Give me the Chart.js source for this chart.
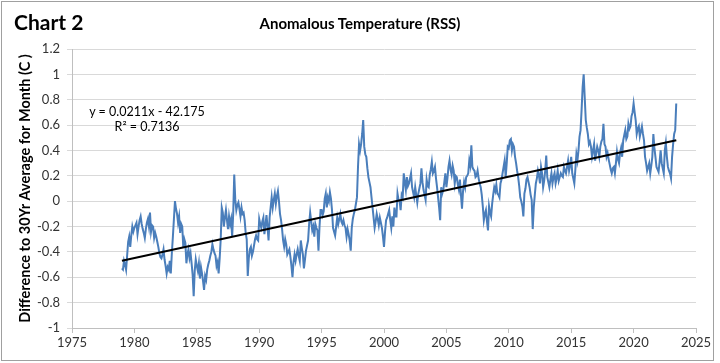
<!DOCTYPE html>
<html>
<head>
<meta charset="utf-8">
<title>Anomalous Temperature (RSS)</title>
<script src="https://cdn.jsdelivr.net/npm/chart.js@4.4.1/dist/chart.umd.min.js"></script>
<style>
  html, body { margin: 0; padding: 0; background: #fff; }
  #wrap { position: relative; width: 720px; height: 363px; font-family: Lato, 'Liberation Sans', sans-serif; color: #000; }
  #frame { position: absolute; left: 1px; top: 1px; width: 711px; height: 358px; border: 1px solid #a0a0a0; pointer-events: none; }
  #chart-no { position: absolute; left: 14px; top: 9px; font-size: 21px; font-weight: bold; }
  #chart-title { position: absolute; left: 0; width: 720px; top: 14px; text-align: center; font-size: 15px; font-weight: bold; }
  #trend-eq { position: absolute; left: 80px; top: 104px; width: 134px; text-align: center; font-size: 12.5px; line-height: 15px; }
  canvas { position: absolute; left: 0; top: 0; }
</style>
</head>
<body>
<div id="wrap">
  <canvas id="chart" width="720" height="363"></canvas>
  <div id="chart-no">Chart 2</div>
  <div id="chart-title">Anomalous Temperature (RSS)</div>
  <div id="trend-eq">y = 0.0211x - 42.175<br>R² = 0.7136</div>
  <div id="frame"></div>
</div>
<script>
// ── Data (monthly anomaly) ────────────────────────────────
const startYear = 1979;
const anomaly = [
  -0.53,-0.54,-0.47,-0.50,-0.54,-0.43,-0.32,-0.28,-0.36,-0.27,-0.20,-0.24, // 1979
  -0.21,-0.19,-0.17,-0.26,-0.20,-0.15,-0.12,-0.18,-0.22,-0.25,-0.29,-0.22, // 1980
  -0.17,-0.14,-0.20,-0.09,-0.24,-0.19,-0.20,-0.29,-0.25,-0.28,-0.32,-0.36, // 1981
  -0.41,-0.44,-0.45,-0.42,-0.38,-0.46,-0.51,-0.57,-0.52,-0.54,-0.47,-0.57, // 1982
  -0.41,-0.28,-0.14, 0.00,-0.06,-0.10,-0.17,-0.12,-0.25,-0.18,-0.20,-0.36, // 1983
  -0.30,-0.33,-0.49,-0.42,-0.38,-0.45,-0.41,-0.49,-0.58,-0.75,-0.55,-0.46, // 1984
  -0.51,-0.55,-0.49,-0.61,-0.52,-0.57,-0.63,-0.70,-0.59,-0.62,-0.54,-0.50, // 1985
  -0.47,-0.43,-0.40,-0.34,-0.38,-0.41,-0.43,-0.51,-0.48,-0.57,-0.45,-0.30, // 1986
  -0.05,-0.09,-0.20,-0.13,-0.07,-0.15,-0.22,-0.12,-0.18,-0.14,-0.28,-0.10, // 1987
   0.21, 0.01,-0.07,-0.03,-0.01,-0.06,-0.12,-0.05,-0.10,-0.09,-0.15,-0.25, // 1988
  -0.30,-0.59,-0.45,-0.38,-0.36,-0.43,-0.40,-0.35,-0.30,-0.27,-0.30,-0.31, // 1989
  -0.14,-0.18,-0.21,-0.16,-0.13,-0.26,-0.19,-0.11,-0.20,-0.31,-0.13,-0.05, // 1990
   0.03,-0.05, 0.01, 0.06,-0.02, 0.04, 0.08, 0.00,-0.10,-0.15,-0.22,-0.31, // 1991
  -0.36,-0.30,-0.34,-0.42,-0.40,-0.38,-0.44,-0.51,-0.60,-0.48,-0.42,-0.47, // 1992
  -0.42,-0.38,-0.43,-0.47,-0.31,-0.37,-0.42,-0.53,-0.46,-0.39,-0.35,-0.31, // 1993
  -0.18,-0.09,-0.16,-0.23,-0.20,-0.28,-0.18,-0.21,-0.23,-0.39,-0.20,-0.07, // 1994
  -0.07,-0.11,-0.08, 0.02, 0.06,-0.05, 0.03, 0.00, 0.07, 0.02,-0.07,-0.21, // 1995
  -0.24,-0.27,-0.20,-0.13,-0.18,-0.14,-0.10,-0.16,-0.18,-0.15,-0.19,-0.21, // 1996
  -0.28,-0.22,-0.26,-0.31,-0.39,-0.21,-0.14,-0.10,-0.07,-0.02, 0.03, 0.27, // 1997
   0.45, 0.40, 0.45, 0.53, 0.64, 0.43, 0.37, 0.35, 0.26, 0.19, 0.15, 0.11, // 1998
   0.03,-0.05,-0.13,-0.21,-0.16,-0.10,-0.14,-0.19,-0.13,-0.17,-0.21,-0.28, // 1999
  -0.36,-0.24,-0.15,-0.13,-0.10,-0.07,-0.15,-0.21,-0.12,-0.20,-0.05,-0.12, // 2000
  -0.12, 0.06, 0.01, 0.00,-0.07, 0.05, 0.03, 0.22, 0.15, 0.09, 0.19, 0.12, // 2001
   0.14, 0.18, 0.22, 0.11, 0.07, 0.03, 0.11, 0.05,-0.01, 0.06, 0.10, 0.14, // 2002
   0.26, 0.15, 0.09, 0.05, 0.01, 0.17, 0.12, 0.11, 0.21, 0.25, 0.31, 0.22, // 2003
   0.24, 0.27, 0.18, 0.11, 0.03,-0.05,-0.15, 0.11, 0.06, 0.09, 0.15, 0.22, // 2004
   0.11, 0.18, 0.27, 0.32, 0.25, 0.21, 0.28, 0.24, 0.14, 0.20, 0.19, 0.13, // 2005
   0.09, 0.17, 0.05,-0.06, 0.08, 0.15, 0.11, 0.19, 0.20, 0.22, 0.32, 0.28, // 2006
   0.44, 0.27, 0.25, 0.24, 0.19, 0.20, 0.24, 0.18, 0.14, 0.11, 0.05,-0.04, // 2007
  -0.15,-0.10,-0.07,-0.16,-0.23,-0.04,-0.09,-0.12,-0.02, 0.05, 0.11, 0.08, // 2008
   0.13, 0.06, 0.05, 0.03, 0.14, 0.17, 0.22, 0.27, 0.32, 0.19, 0.30, 0.43, // 2009
   0.42, 0.48, 0.49, 0.40, 0.45, 0.43, 0.35, 0.30, 0.24, 0.19, 0.12, 0.03, // 2010
   0.00,-0.04,-0.12, 0.06, 0.10, 0.17, 0.19, 0.15, 0.11, 0.05, 0.01,-0.22, // 2011
  -0.05, 0.05, 0.14, 0.18, 0.24, 0.20, 0.14, 0.27, 0.22, 0.11, 0.16, 0.24, // 2012
   0.36, 0.19, 0.15, 0.11, 0.17, 0.22, 0.14, 0.19, 0.22, 0.14, 0.18, 0.24, // 2013
   0.16, 0.19, 0.22, 0.20, 0.19, 0.27, 0.24, 0.22, 0.27, 0.32, 0.24, 0.28, // 2014
   0.35, 0.22, 0.18, 0.14, 0.25, 0.37, 0.32, 0.40, 0.51, 0.56, 0.72, 0.90, // 2015
   1.00, 0.82, 0.64, 0.58, 0.53, 0.45, 0.47, 0.43, 0.35, 0.40, 0.45, 0.32, // 2016
   0.38, 0.43, 0.40, 0.35, 0.43, 0.47, 0.49, 0.61, 0.45, 0.43, 0.35, 0.38, // 2017
   0.33, 0.29, 0.25, 0.22, 0.26, 0.27, 0.22, 0.30, 0.39, 0.33, 0.30, 0.38, // 2018
   0.42, 0.35, 0.48, 0.52, 0.56, 0.49, 0.51, 0.61, 0.57, 0.59, 0.67, 0.70, // 2019
   0.77, 0.70, 0.64, 0.53, 0.57, 0.59, 0.51, 0.55, 0.59, 0.53, 0.48, 0.35, // 2020
   0.30, 0.24, 0.27, 0.30, 0.22, 0.28, 0.35, 0.53, 0.42, 0.35, 0.27, 0.25, // 2021
   0.23, 0.31, 0.40, 0.30, 0.26, 0.22, 0.40, 0.46, 0.35, 0.27, 0.24, 0.22, // 2022
   0.18, 0.35, 0.45, 0.53, 0.56, 0.77                                      // 2023
];

// linear trend, ends as drawn on the chart
const trendYears  = [1979.0, 2023.42];
const trendValues = [-0.47, 0.48];

// axis ticks
const xTicks = [1975, 1980, 1985, 1990, 1995, 2000, 2005, 2010, 2015, 2020, 2025];
const yTicks = [-1, -0.8, -0.6, -0.4, -0.2, 0, 0.2, 0.4, 0.6, 0.8, 1, 1.2];

// ── Chart ─────────────────────────────────────────────────
const FONT = "Lato, 'Liberation Sans', sans-serif";
const LEFT_PAD = 2;

const points = anomaly.map((v, i) => ({ x: startYear + i / 12, y: v }));
const trendPoints = trendYears.map((x, i) => ({ x, y: trendValues[i] }));

new Chart(document.getElementById('chart'), {
  type: 'scatter',
  data: {
    datasets: [
      { label: 'RSS', data: points, showLine: true, borderColor: '#4a7ebb',
        borderWidth: 2, pointRadius: 0, tension: 0, order: 2 },
      { label: 'Linear', data: trendPoints, showLine: true, borderColor: '#000',
        borderWidth: 2, pointRadius: 0, order: 1 }
    ]
  },
  options: {
    responsive: false,
    animation: false,
    layout: { padding: { left: LEFT_PAD, top: 49, right: 24, bottom: 0 } },
    plugins: { legend: { display: false }, tooltip: { enabled: false } },
    scales: {
      x: {
        type: 'linear', min: 1975, max: 2025,
        afterBuildTicks: s => { s.ticks = xTicks.map(v => ({ value: v })); },
        afterFit: s => { s.height = 363 - 328; },
        grid: { drawOnChartArea: false, tickLength: 5, color: '#bfbfbf' },
        border: { color: '#bfbfbf' },
        ticks: { font: { family: FONT, size: 13 }, color: '#333', padding: 2,
                 maxRotation: 0, autoSkip: false, callback: v => String(v) }
      },
      y: {
        min: -1, max: 1.2,
        afterBuildTicks: s => { s.ticks = yTicks.map(v => ({ value: v })); },
        afterFit: s => { s.width = 72 - LEFT_PAD; },
        grid: { color: '#d9d9d9', tickLength: 5 },
        border: { color: '#bfbfbf' },
        ticks: { font: { family: FONT, size: 13 }, color: '#333', padding: 7,
                 callback: v => String(Number(v.toFixed(1))) },
        title: { display: true, text: 'Difference to 30Yr Average for Month (C )',
                 font: { family: FONT, size: 14.5, weight: 'bold' }, color: '#000',
                 padding: { top: 15, bottom: 0 } }
      }
    }
  }
});
</script>
</body>
</html>
